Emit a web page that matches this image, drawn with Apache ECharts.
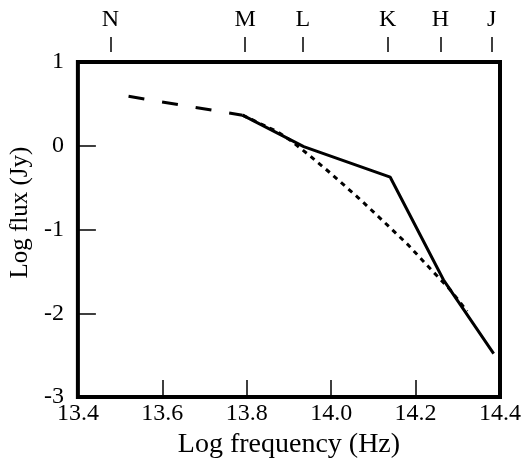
<!DOCTYPE html>
<html>
<head>
<meta charset="utf-8">
<script src="https://cdn.jsdelivr.net/npm/echarts@6/dist/echarts.min.js"></script>
<style>html,body{margin:0;padding:0;background:#fff}#c{width:530px;height:464px}</style>
</head>
<body>
<div id="c"></div>
<script>
// Photometric bands (top axis)
var bandNames = ['N', 'M', 'L', 'K', 'H', 'J'];
var bandFreqs = [13.477, 13.796, 13.933, 14.134, 14.259, 14.380];

// Dashed segment (long-wavelength extrapolation)
var dashedX = [13.52, 13.79];
var dashedY = [0.59, 0.365];

// Solid observed SED
var solidX = [13.79, 13.935, 14.14, 14.266, 14.385];
var solidY = [0.365, -0.01, -0.375, -1.60, -2.48];

// Dotted model curve
var dottedX = [13.79, 13.874, 13.905, 13.952, 13.999, 14.065, 14.100, 14.181, 14.242, 14.282, 14.322];
var dottedY = [0.365, 0.165, 0.059, -0.129, -0.329, -0.624, -0.788, -1.176, -1.506, -1.718, -1.976];

function pairs(xs, ys) { return xs.map(function (x, i) { return [x, ys[i]]; }); }

var FONT = 'Liberation Serif';
var chart = echarts.init(document.getElementById('c'), null, { renderer: 'canvas' });
chart.setOption({
  animation: false,
  backgroundColor: '#fff',
  grid: { left: 76, right: 30, top: 62, bottom: 62, show: true, borderColor: '#000', borderWidth: 4, backgroundColor: 'transparent' },
  xAxis: [{
    type: 'value', position: 'bottom', min: 13.4, max: 14.4, interval: 0.2,
    axisLine: { show: false, onZero: false },
    axisTick: { show: true, inside: true, length: 17, lineStyle: { color: '#000', width: 1.5 } },
    splitLine: { show: false },
    axisLabel: { color: '#000', fontFamily: FONT, fontSize: 24, margin: 5, formatter: function (v) { return v.toFixed(1); } },
    name: 'Log frequency (Hz)', nameLocation: 'middle', nameGap: 27,
    nameTextStyle: { color: '#000', fontFamily: FONT, fontSize: 28 }
  }, {
    type: 'value', position: 'top', min: 13.4, max: 14.4, offset: 10,
    axisLine: { show: false, onZero: false },
    axisTick: { show: true, inside: false, length: 15, customValues: bandFreqs, lineStyle: { color: '#000', width: 1.5 } },
    splitLine: { show: false },
    axisLabel: {
      color: '#000', fontFamily: FONT, fontSize: 24, margin: 20, customValues: bandFreqs,
      formatter: function (v) {
        for (var i = 0; i < bandFreqs.length; i++) { if (Math.abs(bandFreqs[i] - v) < 1e-6) return bandNames[i]; }
        return '';
      }
    }
  }],
  yAxis: [{
    type: 'value', min: -3, max: 1, interval: 1,
    axisLine: { show: false, onZero: false },
    axisTick: { show: true, inside: true, length: 18, lineStyle: { color: '#000', width: 1.5 } },
    splitLine: { show: false },
    axisLabel: { color: '#000', fontFamily: FONT, fontSize: 24, margin: 14 },
    name: 'Log flux (Jy)', nameLocation: 'middle', nameGap: 35, nameRotate: 90,
    nameTextStyle: { color: '#000', fontFamily: FONT, fontSize: 25, padding: [0, 0, 0, 34] }
  }],
  series: [{
    type: 'line', xAxisIndex: 0, data: pairs(dottedX, dottedY), symbol: 'none',
    lineStyle: { color: '#000', width: 3, type: [5, 5] }, z: 2
  }, {
    type: 'line', xAxisIndex: 0, data: pairs(dashedX, dashedY), symbol: 'none',
    lineStyle: { color: '#000', width: 3, type: [16, 18] }, z: 3
  }, {
    type: 'line', xAxisIndex: 0, data: pairs(solidX, solidY), symbol: 'none',
    lineStyle: { color: '#000', width: 3 }, z: 4
  }]
});
</script>
</body>
</html>
